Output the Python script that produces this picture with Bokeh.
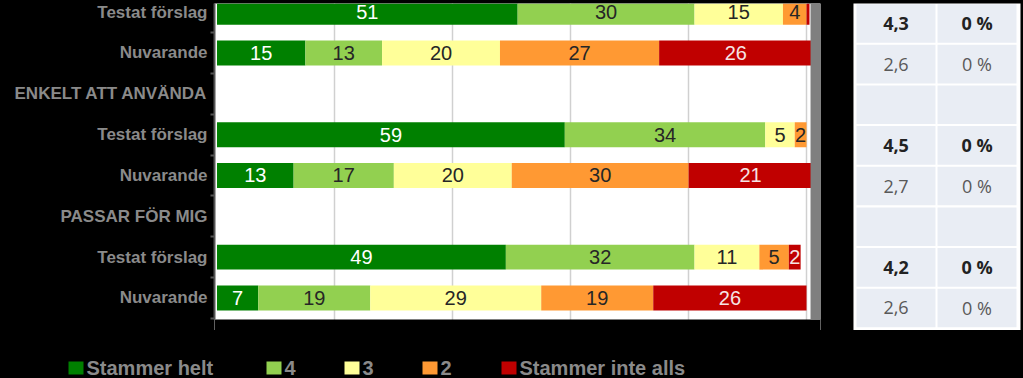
import numpy as np
from bokeh.plotting import figure
from bokeh.models import (ColumnDataSource, Range1d, FixedTicker, BoxAnnotation,
                          GlobalInlineStyleSheet)
from bokeh.layouts import row, column
from bokeh.core.properties import value
from bokeh.embed import file_html
from bokeh.resources import INLINE

# ---------------- data ----------------
categories = ["Testat förslag", "Nuvarande", "ENKELT ATT ANVÄNDA",
              "Testat förslag", "Nuvarande", "PASSAR FÖR MIG",
              "Testat förslag", "Nuvarande"]
bar_rows = [0, 1, 3, 4, 6, 7]
series_names = ["Stammer helt", "4", "3", "2", "Stammer inte alls"]
stammer_helt = [51, 15, 59, 13, 49, 7]
fyra = [30, 13, 34, 17, 32, 19]
tre = [15, 20, 5, 20, 11, 29]
tva = [4, 27, 2, 30, 5, 19]
stammer_inte_alls = [0.5, 26, 0, 21, 2, 26]

medelvarde = ["4,3", "2,6", "", "4,5", "2,7", "", "4,2", "2,6"]
andel = ["0 %", "0 %", "", "0 %", "0 %", "", "0 %", "0 %"]
bold_rows = [True, False, False, True, False, False, True, False]

# ---------------- styles ----------------
colors = ["#008000", "#92D050", "#FFFF99", "#FF9933", "#C00000"]
label_colors = ["#ffffff", "#262626", "#262626", "#262626", "#f6e4e4"]
axis_text_color = "#8a8a8a"
FONT = "Liberation Sans"

series_vals = np.array([stammer_helt, fyra, tre, tva, stammer_inte_alls], dtype=float)
keys = ["s%d" % i for i in range(len(series_names))]
data = dict(y=bar_rows)
for k, vals in zip(keys, series_vals):
    data[k] = list(vals)
src = ColumnDataSource(data)

X0, X1 = -0.42, 102.37
ROW_TOP, ROW_END, FRAME_END = -0.212, 7.527, 7.797
p = figure(width=852, height=330,
           x_range=Range1d(X0, X1), y_range=Range1d(FRAME_END, ROW_TOP),
           output_backend="svg", toolbar_location=None,
           min_border_left=214, min_border_right=32,
           min_border_top=3, min_border_bottom=0)
p.border_fill_color = "#000000"
p.background_fill_color = "#ffffff"
p.outline_line_color = None

renderers = p.hbar_stack(keys, y="y", height=0.612, fill_color=colors,
                         line_color=None, source=src)

# value labels
lefts = np.vstack([np.zeros(series_vals.shape[1]),
                   np.cumsum(series_vals, axis=0)[:-1]])
centers = lefts + series_vals / 2
for i in range(len(series_names)):
    texts = ["%d" % v if v >= 1 else "" for v in series_vals[i]]
    lsrc = ColumnDataSource(dict(x=list(centers[i]), y=bar_rows, t=texts))
    p.text(x="x", y="y", text="t", source=lsrc, text_align="center",
           text_baseline="middle", text_color=label_colors[i],
           text_font=value(FONT), text_font_size="20px")

# dark area below the plot area (frame is extended to align with the table)
p.quad(left=X0, right=X1, top=ROW_END, bottom=FRAME_END,
       fill_color="#000000", line_color=None)

# grid
p.xgrid.ticker = FixedTicker(ticks=[20, 40, 60, 80, 100])
p.xgrid.grid_line_color = "#d0d0d0"
p.xgrid.grid_line_width = 1.5
p.ygrid.visible = False

# axes
p.xaxis.visible = False
yax = p.yaxis[0]
yax.ticker = FixedTicker(ticks=list(range(len(categories))),
                         minor_ticks=[i + 0.5 for i in range(len(categories))])
yax.bounds = (ROW_TOP, ROW_END)
yax.major_label_overrides = {i: c for i, c in enumerate(categories)}
yax.major_tick_line_color = None
yax.major_tick_out = 0
yax.major_tick_in = 0
yax.minor_tick_out = 4
yax.minor_tick_in = 0
yax.minor_tick_line_color = "#555555"
yax.minor_tick_line_width = 2
yax.axis_line_color = "#555555"
yax.axis_line_width = 2
yax.major_label_standoff = 3
yax.major_label_text_font = FONT
yax.major_label_text_font_style = "bold"
yax.major_label_text_font_size = "17px"
yax.major_label_text_color = axis_text_color

# shadow strip at right of plot area
p.add_layout(BoxAnnotation(left=100.68, right=X1, top=ROW_TOP, bottom=ROW_END,
                           fill_color="#7f7f7f", fill_alpha=1, line_alpha=0))

# ---------------- table ----------------
t = figure(width=171, height=330,
           x_range=Range1d(-0.537, 1.574), y_range=Range1d(7.554, -0.492),
           output_backend="svg", toolbar_location=None, min_border=0)
t.axis.visible = False
t.grid.visible = False
t.outline_line_color = None
t.background_fill_color = "#000000"
t.border_fill_color = "#000000"

nrows = len(medelvarde)
t.quad(left=-0.525, right=1.537, top=-0.541, bottom=nrows - 0.446,
       fill_color="#ffffff", line_color=None)
cx, cy, ct, cs, cc = [], [], [], [], []
for r_i in range(nrows):
    for c_i, txt in enumerate([medelvarde[r_i], andel[r_i]]):
        cx.append(c_i)
        cy.append(r_i)
        ct.append(txt)
        cs.append("bold" if bold_rows[r_i] else "normal")
        cc.append("#222222" if bold_rows[r_i] else "#595959")
tsrc = ColumnDataSource(dict(x=cx, y=cy, t=ct, s=cs, c=cc))
t.rect(x="x", y="y", width=0.975, height=0.95, source=tsrc,
       fill_color="#e9edf4", line_color=None)
t.text(x="x", y="y", text="t", source=tsrc, text_align="center",
       text_baseline="middle", text_font=value("Open Sans"),
       text_font_size="18px", text_font_style="s", text_color="c")

# ---------------- legend strip (pixel-unit figure) ----------------
lf = figure(width=1023, height=48, x_range=Range1d(0, 1023), y_range=Range1d(48, 0),
            output_backend="svg", toolbar_location=None, min_border=0)
lf.axis.visible = False
lf.grid.visible = False
lf.outline_line_color = None
lf.background_fill_color = "#000000"
lf.border_fill_color = "#000000"
legend_x = [68, 266, 344, 422, 501]   # left edge of each swatch (layout)
swatch_w, swatch_h, standoff, legend_y = 15, 13, 3, 37.5
lsrc = ColumnDataSource(dict(
    sx=[x + swatch_w / 2 for x in legend_x],
    tx=[x + swatch_w + standoff for x in legend_x],
    y=[legend_y] * len(series_names),
    c=colors, name=series_names))
lf.rect(x="sx", y="y", width=swatch_w, height=swatch_h, fill_color="c",
        line_color=None, source=lsrc)
lf.text(x="tx", y="y", text="name", source=lsrc, text_align="left",
        text_baseline="middle", text_font=value(FONT), text_font_style="bold",
        text_font_size="20px", text_color=axis_text_color)

layout = column(row(p, t), lf,
                stylesheets=[GlobalInlineStyleSheet(css="body { background-color: #000000; }")])

open("out.html", "w").write(file_html(layout, INLINE))
